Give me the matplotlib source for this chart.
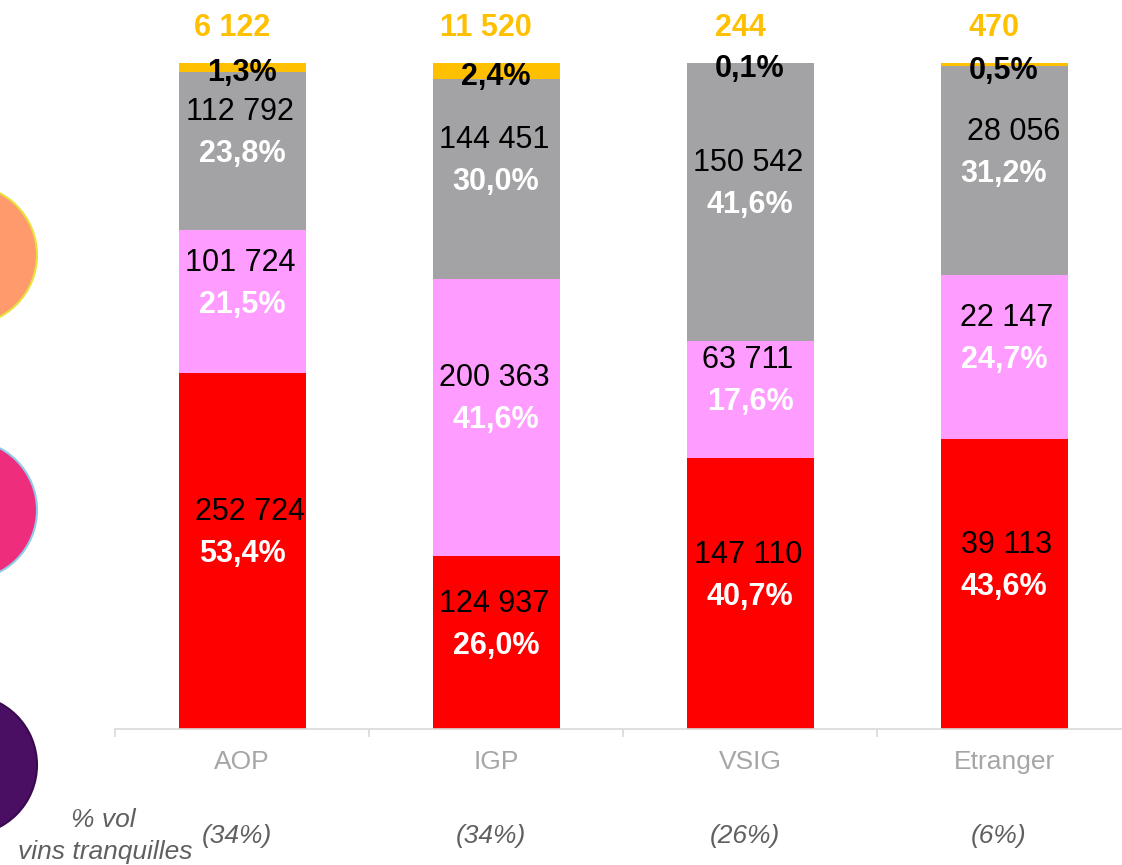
import matplotlib
matplotlib.use("Agg")
import matplotlib.pyplot as plt
from matplotlib.patches import Circle
from matplotlib.transforms import blended_transform_factory
import numpy as np

plt.rcParams['font.family'] = ['Liberation Sans', 'DejaVu Sans']

# ---------------- data ----------------
categories = ["AOP", "IGP", "VSIG", "Etranger"]
share_labels = ["(34%)", "(34%)", "(26%)", "(6%)"]

rouge = [252724, 124937, 147110, 39113]
rose = [101724, 200363, 63711, 22147]
gris = [112792, 144451, 150542, 28056]
jaune = [6122, 11520, 244, 470]

rouge_pct = ["53,4%", "26,0%", "40,7%", "43,6%"]
rose_pct = ["21,5%", "41,6%", "17,6%", "24,7%"]
gris_pct = ["23,8%", "30,0%", "41,6%", "31,2%"]
jaune_pct = ["1,3%", "2,4%", "0,1%", "0,5%"]

# ---------------- styles ----------------
C_ROUGE = "#FF0000"
C_ROSE = "#FF9CFF"
C_GRIS = "#A3A3A5"
C_JAUNE = "#FFC000"
PX = 72 / 100.0  # points per pixel

W, H = 1122, 865
fig = plt.figure(figsize=(W / 100, H / 100), dpi=100)

# decorative circles on the left edge
bg = fig.add_axes([0, 0, 1, 1], zorder=-1)
bg.set_xlim(0, W)
bg.set_ylim(H, 0)
bg.axis("off")
bg.add_patch(Circle((-33, 255), 70, fc="#FF9A6C", ec="#E6E23C", lw=1.5))
bg.add_patch(Circle((-33, 510), 70, fc="#EE2E7C", ec="#8CCBEA", lw=1.5))
bg.add_patch(Circle((-33, 765), 70, fc="#4A0F63", ec="#3A0A50", lw=1.5))

ax = fig.add_axes([115 / W, (H - 729) / H, 1016 / W, 666 / H])
ax.patch.set_alpha(0)

x = np.arange(len(categories))
series = [np.array(rouge, float), np.array(rose, float),
          np.array(gris, float), np.array(jaune, float)]
totals = sum(series)
shares = [s / totals * 100 for s in series]
colors = [C_ROUGE, C_ROSE, C_GRIS, C_JAUNE]

bottom = np.zeros(len(categories))
bottoms = []
for sh, col in zip(shares, colors):
    ax.bar(x, sh, 0.5, bottom=bottom, color=col, linewidth=0, zorder=2)
    bottoms.append(bottom.copy())
    bottom = bottom + sh

ax.set_xlim(-0.5, 3.5)
ax.set_ylim(0, 100)

# labels for red, pink, gray segments
vals = [rouge, rose, gris]
pcts = [rouge_pct, rose_pct, gris_pct]
num_dx = {(0, 0): 8, (3, 2): 10, (3, 1): 3, (3, 0): 3}
for k in range(3):
    for i in range(len(categories)):
        mid = bottoms[k][i] + shares[k][i] / 2
        ax.annotate(pcts[k][i], (x[i], mid), xytext=(0, -3 * PX),
                    textcoords="offset points", ha="center", va="center",
                    fontsize=22, fontweight="bold", color="white", zorder=3)
        dx = num_dx.get((i, k), -2)
        ax.annotate(f"{vals[k][i]:,}".replace(",", " "), (x[i], mid),
                    xytext=(dx * PX, 39 * PX), textcoords="offset points",
                    ha="center", va="center", fontsize=22, color="black",
                    zorder=3)

# yellow segment labels
for i in range(len(categories)):
    mid = bottoms[3][i] + shares[3][i] / 2
    ax.annotate(jaune_pct[i], (x[i], mid), xytext=(0, -6 * PX),
                textcoords="offset points", ha="center", va="center",
                fontsize=22, fontweight="bold", color="black", zorder=3)
    ax.annotate(f"{jaune[i]:,}".replace(",", " "), (x[i], 100),
                xytext=(-10 * PX, 35 * PX), textcoords="offset points",
                ha="center", va="center", fontsize=22, fontweight="bold",
                color=C_JAUNE, zorder=3, annotation_clip=False)

# axes styling
for s in ["top", "right", "left"]:
    ax.spines[s].set_visible(False)
ax.spines["bottom"].set_color("#D9D9D9")
ax.spines["bottom"].set_linewidth(1.2)
ax.set_yticks([])
ax.set_xticks(x)
ax.set_xticklabels(categories, fontsize=19, color="#A6A6A6")
ax.tick_params(axis="x", which="major", length=0, pad=15)
ax.set_xticks(np.arange(-0.5, 4, 1), minor=True)
ax.tick_params(axis="x", which="minor", length=8 * PX, color="#D9D9D9",
               width=1.2)

# bottom italic row
tr = blended_transform_factory(ax.transData, fig.transFigure)
for i, lab in enumerate(share_labels):
    ax.text(x[i] - 0.02, 1 - 836 / H, lab, transform=tr, ha="center",
            va="center", fontsize=19, style="italic", color="#606060",
            clip_on=False)
fig.text(103 / W, 1 - 820 / H, "% vol", ha="center", va="center",
         fontsize=19, style="italic", color="#606060")
fig.text(105 / W, 1 - 852 / H, "vins tranquilles", ha="center", va="center",
         fontsize=19, style="italic", color="#606060")

fig.savefig("out.png", dpi=100)
